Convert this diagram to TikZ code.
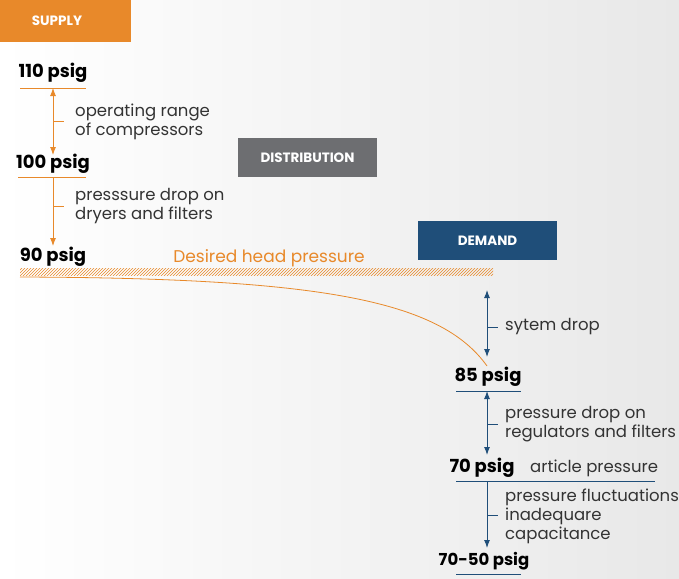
\documentclass[tikz,border=0pt]{standalone}
\usepackage{fontspec}
\setmainfont{Poppins}
\usetikzlibrary{patterns,arrows.meta}
\definecolor{org}{HTML}{E8892A}
\definecolor{dgray}{HTML}{6D6E71}
\definecolor{dblue}{HTML}{1F4E79}
\definecolor{txt}{HTML}{333333}
\begin{document}
\begin{tikzpicture}[x=1pt,y=-1pt,
 hdr/.style={text=white,font=\bfseries\fontsize{13.5}{15}\selectfont,inner sep=0},
 val/.style={font=\bfseries\fontsize{18}{20}\selectfont,inner sep=0},
 lbl/.style={text=txt,font=\fontsize{16.5}{19}\selectfont,inner sep=0,anchor=west,align=left},
 oarr/.style={draw=org,line width=0.9pt,-{Latex[length=8pt,width=6pt]}},
 barr/.style={draw=dblue,line width=1pt,-{Latex[length=8pt,width=6pt]}},
 both/.style={{Latex[length=8pt,width=6pt]}-{Latex[length=8pt,width=6pt]}}]
\useasboundingbox (0,0) rectangle (679,578);
\shade[left color=white,right color=gray!18] (0,0) rectangle (679,578);
% headers
\fill[org] (0,0) rectangle (131,42);
\node[hdr] (sup) at (57,21) {SUPPLY};
\fill[dgray] (238,138) rectangle (377,177);
\node[hdr] (dis) at (307.5,157.5) {DISTRIBUTION};
\fill[dblue] (418,221) rectangle (557,260);
\node[hdr] (dem) at (487.5,240.5) {DEMAND};
% supply side
\node[val] (p110) at (53,73) {110 psig};
\coordinate (a1) at (53,88); \coordinate (a2) at (53,155);
\draw[org,line width=0.9pt] (20,88) -- (86,88);
\draw[oarr,both] (a1) -- (a2);
\draw[org,line width=0.9pt] (53,121) -- (64,121);
\node[lbl] (t1) at (75,122) {operating range\\of compressors};
\node[val] (p100) at (53,164) {100 psig};
\draw[org,line width=0.9pt] (18,177) -- (86,177);
\coordinate (b1) at (53,177); \coordinate (b2) at (53,246);
\draw[oarr] (b1) -- (b2);
\draw[org,line width=0.9pt] (53,206) -- (64,206);
\node[lbl] (t2) at (75,206) {presssure drop on\\dryers and filters};
\node[val] (p90) at (53,257) {90 psig};
\fill[pattern=north east lines,pattern color=org] (20,268) rectangle (493,275);
\node[inner sep=0,text=org,font=\fontsize{17}{19}\selectfont] (dh) at (269,258) {Desired head pressure};
\coordinate (c0) at (20,277); \coordinate (c1) at (487,366);
\draw[org,line width=0.8pt] (c0) .. controls (320,278) and (440,300) .. (c1);
% demand side
\coordinate (d1) at (487,290); \coordinate (d2) at (487,357);
\draw[barr,both] (d1) -- (d2);
\draw[dblue,line width=1pt] (487,327) -- (498,327);
\node[lbl] (t3) at (505,327) {sytem drop};
\node[val] (p85) at (488,377) {85 psig};
\draw[dblue,line width=1pt] (456,391) -- (521,391);
\coordinate (e1) at (487,391); \coordinate (e2) at (487,455);
\draw[barr,both] (e1) -- (e2);
\draw[dblue,line width=1pt] (487,424) -- (498,424);
\node[lbl] (t4) at (505,424) {pressure drop on\\regulators and filters};
\node[val] (p70) at (482,468) {70 psig};
\node[lbl] (t5) at (530,468) {article pressure};
\draw[dblue,line width=1pt] (456,481) -- (655,481);
\coordinate (f1) at (487,481); \coordinate (f2) at (487,548);
\draw[barr] (f1) -- (f2);
\draw[dblue,line width=1pt] (487,515) -- (498,515);
\node[lbl] (t6) at (505,516) {pressure fluctuations\\inadequare\\capacitance};
\node[val,font=\bfseries\fontsize{16.5}{20}\selectfont] (p7050) at (484,561) {70-50 psig};
\draw[dblue,line width=1pt] (456,574) -- (521,574);
\end{tikzpicture}
\end{document}
